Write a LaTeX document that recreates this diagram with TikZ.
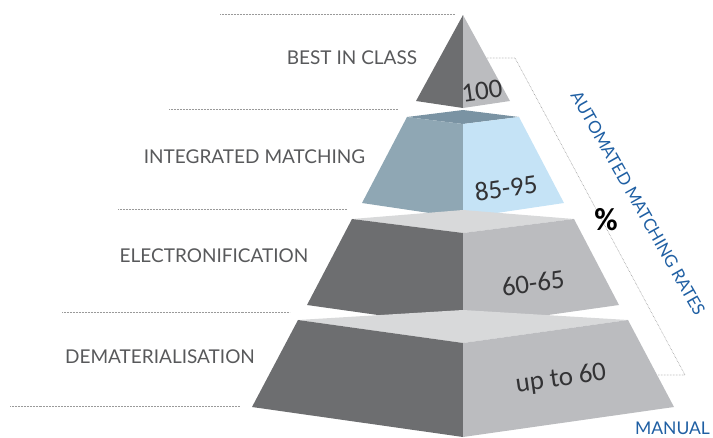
\documentclass[tikz,border=0pt]{standalone}
\usepackage{fontspec}
\setmainfont{Lato}
\newfontfamily\numfont{Carlito}
\definecolor{dgrey}{HTML}{6D6E70}
\definecolor{lgrey}{HTML}{BBBCBF}
\definecolor{gtop}{HTML}{D8D9DA}
\definecolor{bleft}{HTML}{8FA7B4}
\definecolor{bright}{HTML}{C5E3F6}
\definecolor{btop}{HTML}{7A93A3}
\definecolor{labgrey}{HTML}{58595B}
\definecolor{numgrey}{HTML}{333335}
\definecolor{dotgrey}{HTML}{9A9A9A}
\definecolor{rateblue}{HTML}{1F5FA3}
\tikzset{
  tierlabel/.style={text=labgrey, font=\fontsize{19}{21}\selectfont, inner sep=0pt},
  tiernum/.style={text=numgrey, font=\numfont\fontsize{27}{30}\selectfont, inner sep=0pt, rotate=8},
  bluelabel/.style={text=rateblue, font=\fontsize{17}{19}\selectfont, inner sep=0pt},
  dotline/.style={dotgrey, line width=0.6pt, dash pattern=on 0.6pt off 0.9pt}
}
\begin{document}
\begin{tikzpicture}[x=1pt,y=-1pt]
\useasboundingbox (0,0) rectangle (713,437);
% top tier
\fill[dgrey] (463,15) -- (416,101) -- (463,108) -- cycle;
\fill[lgrey] (463,15) -- (510,101) -- (463,108) -- cycle;
% tier 2
\fill[btop] (407,117) -- (463,110) -- (519,117) -- (463,124) -- cycle;
\fill[bleft] (407,117) -- (463,124) -- (463,218) -- (362,203) -- cycle;
\fill[bright] (463,124) -- (519,117) -- (564,203) -- (463,218) -- cycle;
% tier 3
\fill[gtop] (352,219) -- (463,210) -- (574,219) -- (463,233) -- cycle;
\fill[dgrey] (352,219) -- (463,233) -- (463,327) -- (307,305) -- cycle;
\fill[lgrey] (463,233) -- (574,219) -- (619,305) -- (463,327) -- cycle;
% tier 4
\fill[gtop] (298,320) -- (463,310) -- (628,320) -- (463,343) -- cycle;
\fill[dgrey] (298,320) -- (463,343) -- (463,437) -- (252,407) -- cycle;
\fill[lgrey] (463,343) -- (628,320) -- (674,407) -- (463,437) -- cycle;
% dotted separators
\coordinate (d1a) at (220,14);  \coordinate (d1b) at (455,14);
\coordinate (d2a) at (169,109); \coordinate (d2b) at (398,109);
\coordinate (d3a) at (118,209); \coordinate (d3b) at (347,209);
\coordinate (d4a) at (62,312);  \coordinate (d4b) at (290,312);
\coordinate (d5a) at (10,406);  \coordinate (d5b) at (240,406);
\draw[dotline] (d1a) -- (d1b);
\draw[dotline] (d2a) -- (d2b);
\draw[dotline] (d3a) -- (d3b);
\draw[dotline] (d4a) -- (d4b);
\draw[dotline] (d5a) -- (d5b);
% bracket
\coordinate (b1) at (487,58);
\coordinate (b2) at (515,58);
\coordinate (b3) at (685,375);
\coordinate (b4) at (658,375);
\draw[dotline] (b1) -- (b2) -- (b3) -- (b4);
% labels
\node[tierlabel] (l1) at (352,58) {BEST IN CLASS};
\node[tierlabel] (l2) at (254.5,157) {INTEGRATED MATCHING};
\node[tierlabel] (l3) at (214,256) {ELECTRONIFICATION};
\node[tierlabel] (l4) at (160,357) {DEMATERIALISATION};
% numbers
\node[tiernum] (n1) at (482,91) {100};
\node[tiernum] (n2) at (506,188) {85-95};
\node[tiernum] (n3) at (533,283) {60-65};
\node[tiernum] (n4) at (561,379) {up to 60};
% right side
\node[bluelabel, rotate=-60.5] (rates) at (638,203) {AUTOMATED MATCHING RATES};
\node[inner sep=0pt, font=\numfont\bfseries\fontsize{32}{34}\selectfont] (pct) at (606,220) {\%};
\node[bluelabel, font=\fontsize{17.5}{19}\selectfont] (manual) at (672.5,428) {MANUAL};
\end{tikzpicture}
\end{document}
